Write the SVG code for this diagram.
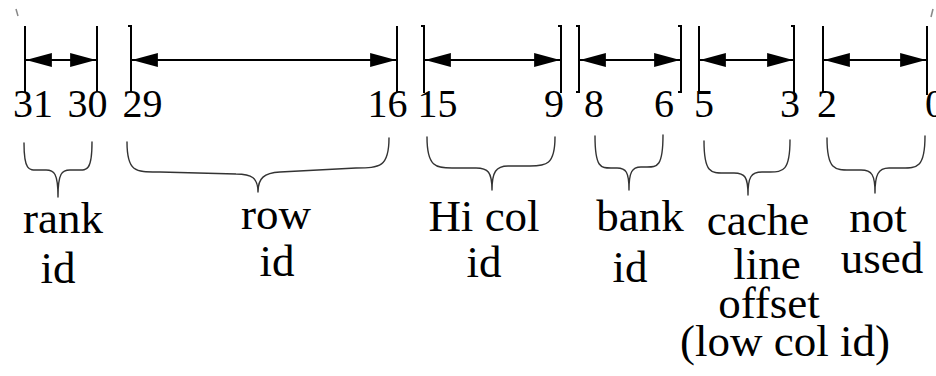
<svg xmlns="http://www.w3.org/2000/svg" width="936" height="376" viewBox="0 0 936 376">
  <style>
    .bar { stroke: #000; stroke-width: 2; fill: none; }
    .dim { stroke: #000; stroke-width: 2; fill: none; marker-start: url(#head); marker-end: url(#head); }
    .brace { stroke: #333; stroke-width: 1.4; fill: none; stroke-linecap: round; }
    .tick { stroke: #888; stroke-width: 1.5; fill: none; }
    text { font-family: 'Liberation Serif', serif; fill: #000; text-anchor: middle; }
    .num { font-size: 40px; }
    .lbl { font-size: 45px; }
  </style>
  <defs>
    <marker id="head" markerUnits="userSpaceOnUse" markerWidth="26" markerHeight="14" viewBox="0 0 24 13" refX="24" refY="6.5" orient="auto-start-reverse">
      <path d="M24,6.5 L0,0 L0,13 z" fill="#000"/>
    </marker>
  </defs>

  <rect width="936" height="376" fill="#fff"/>

  <!-- stray corner marks -->
  <path class="tick" d="M16,9 L18,16"/>
  <path class="tick" d="M933,9 L931,17"/>

  <!-- field boundaries -->
  <g id="bounds">
    <path class="bar" d="M25,26 V93"/>
    <path class="bar" d="M97,26 V92"/>
    <path class="bar" d="M128,26 H131 V92"/>
    <path class="bar" d="M397,26 V93"/>
    <path class="bar" d="M421,26 H424 V93"/>
    <path class="bar" d="M558,26 H561 V93"/>
    <path class="bar" d="M576,26 H579 V92 H576"/>
    <path class="bar" d="M678,26 H681 V92 H678"/>
    <path class="bar" d="M699,26 V92 H702"/>
    <path class="bar" d="M791,26 H794 V93"/>
    <path class="bar" d="M823,26 V92 H826"/>
    <path class="bar" d="M927,26 V95"/>
  </g>

  <!-- width arrows -->
  <g id="connectors">
    <path class="dim" d="M26,60 H96"/>
    <path class="dim" d="M132,60 H396"/>
    <path class="dim" d="M425,60 H560"/>
    <path class="dim" d="M580,60 H680"/>
    <path class="dim" d="M700,60 H793"/>
    <path class="dim" d="M824,60 H926"/>
  </g>

  <!-- bit numbers -->
  <g id="bits">
    <text class="num" x="33" y="117">31</text>
    <text class="num" x="87.5" y="117">30</text>
    <text class="num" x="142.5" y="117">29</text>
    <text class="num" x="387.5" y="117">16</text>
    <text class="num" x="437.5" y="117">15</text>
    <text class="num" x="554" y="117">9</text>
    <text class="num" x="594" y="117">8</text>
    <text class="num" x="664" y="117">6</text>
    <text class="num" x="704" y="117">5</text>
    <text class="num" x="790" y="117">3</text>
    <text class="num" x="827" y="117">2</text>
    <text class="num" x="935" y="117">0</text>
  </g>

  <g id="rank">
    <path class="brace" d="M24,143 C24,173 30,170 40,170 L46,170 C54,170 58,173 58,197 M92,142 C92,173 86,170 76,170 L70,170 C62,170 58,173 58,197"/>
    <text class="lbl" x="63" y="233">rank</text>
    <text class="lbl" x="58" y="283">id</text>
  </g>

  <g id="row">
    <path class="brace" d="M127,142 C127,173 136,172 160,172 L236,174 C252,174 258,178 258,192 M389,138 C389,167 380,168 356,168 L280,172 C264,173 258,178 258,192"/>
    <text class="lbl" x="276" y="229">row</text>
    <text class="lbl" x="277" y="276">id</text>
  </g>

  <g id="hicol">
    <path class="brace" d="M427,137 C427,167 436,168 452,168 L476,168 C488,168 492,172 492,190 M555,137 C555,165 546,166 530,166 L508,166 C496,166 492,172 492,190"/>
    <text class="lbl" x="484" y="231">Hi col</text>
    <text class="lbl" x="484" y="277">id</text>
  </g>

  <g id="bank">
    <path class="brace" d="M595,136 C595,168 601,168 611,168 L617,168 C626,168 629,172 629,190 M663,135 C663,167 657,167 647,167 L641,167 C632,167 629,172 629,190"/>
    <text class="lbl" x="640" y="231">bank</text>
    <text class="lbl" x="630" y="282">id</text>
  </g>

  <g id="offset">
    <path class="brace" d="M704,141 C704,173 711,173 724,173 L734,173 C745,173 748,177 748,195 M790,140 C790,171 783,172 770,172 L762,172 C751,172 748,177 748,195"/>
    <text class="lbl" x="758" y="235">cache</text>
    <text class="lbl" x="767" y="279">line</text>
    <text class="lbl" x="769" y="318">offset</text>
    <text class="lbl" x="785" y="356">(low col id)</text>
  </g>

  <g id="unused">
    <path class="brace" d="M827,138 C827,170 835,170 850,170 L861,170 C872,170 875,175 875,193 M925,136 C925,168 917,168 902,168 L889,168 C878,168 875,175 875,193"/>
    <text class="lbl" x="878" y="232">not</text>
    <text class="lbl" x="882" y="273">used</text>
  </g>
</svg>
